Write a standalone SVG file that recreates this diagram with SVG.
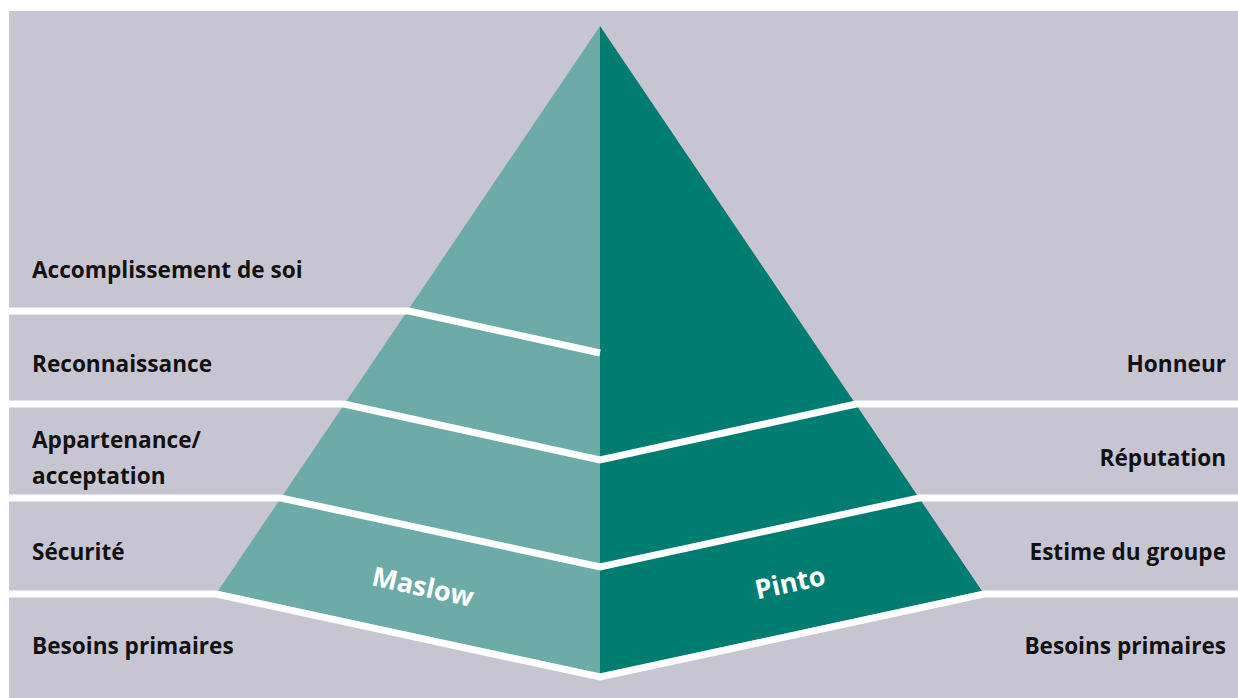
<svg xmlns="http://www.w3.org/2000/svg" width="1238" height="698" viewBox="0 0 1238 698">
<style>
.lbl{font-family:"Open Sans","Liberation Sans",sans-serif;font-weight:700;font-size:22.6px;fill:#111111}
.r{text-anchor:end}
.tag{font-family:"Open Sans","Liberation Sans",sans-serif;font-weight:700;font-size:27px;fill:#ffffff;text-anchor:middle}
.sep{fill:none;stroke:#ffffff;stroke-width:7;stroke-linejoin:miter}
</style>
<rect x="0" y="0" width="1238" height="698" fill="#ffffff"/>
<rect id="background" x="9" y="11" width="1229" height="687" fill="#c8c5d3"/>
<g id="pyramid">
<polygon id="maslow-half" points="600,26 218,591 600,674" fill="#6dabA8"/>
<polygon id="pinto-half" points="600,26 982,591 600,674" fill="#007c70"/>
</g>
<g id="connectors">
<polyline class="sep" points="9,311 409,311 600,353"/>
<polyline class="sep" points="9,404 344,404 600,460 856,404 1238,404"/>
<polyline class="sep" points="9,498 281,498 600,567 919,498 1238,498"/>
<polyline class="sep" points="9,594 216,594 600,677 984,594 1238,594"/>
</g>
<g id="maslow-labels">
<text class="lbl" x="32" y="278">Accomplissement de soi</text>
<text class="lbl" x="32" y="372">Reconnaissance</text>
<text class="lbl" x="32" y="448">Appartenance/</text>
<text class="lbl" x="32" y="484">acceptation</text>
<text class="lbl" x="32" y="560">Sécurité</text>
<text class="lbl" x="32" y="654">Besoins primaires</text>
</g>
<g id="pinto-labels">
<text class="lbl r" x="1226" y="372">Honneur</text>
<text class="lbl r" x="1226" y="466">Réputation</text>
<text class="lbl r" x="1226" y="560">Estime du groupe</text>
<text class="lbl r" x="1226" y="654">Besoins primaires</text>
</g>
<g id="maslow"><text class="tag" transform="translate(421,596) rotate(12.3)">Maslow</text></g>
<g id="pinto"><text class="tag" transform="translate(792,592) rotate(-12.3)">Pinto</text></g>
</svg>
